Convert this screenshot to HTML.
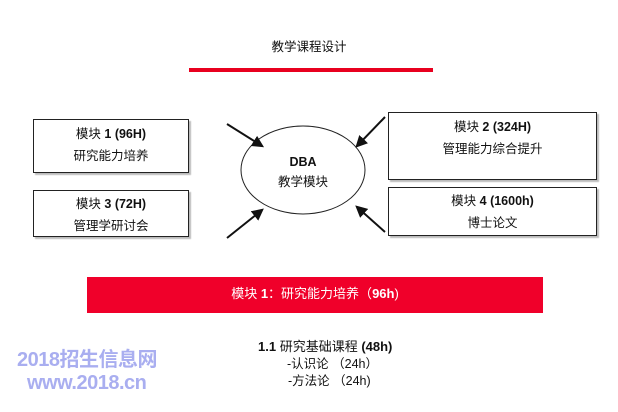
<!DOCTYPE html>
<html><head><meta charset="utf-8"><style>
body{margin:0;width:618px;height:412px;background:#fff;position:relative;overflow:hidden;font-family:"Liberation Sans","Noto Sans CJK SC",sans-serif;color:#111}
.a{position:absolute;white-space:nowrap}
.box{position:absolute;border:1px solid #222;background:#fff;box-shadow:2px 2px 1px #bbb;text-align:center;font-size:12.5px;line-height:22px}
b{font-weight:bold}
</style></head><body>
<div class="a" style="left:0;width:618px;top:36px;text-align:center;font-size:12.5px">教学课程设计</div>
<div class="a" style="left:189px;top:68px;width:244px;height:4px;background:#e8001f"></div>
<div class="box" style="left:33px;top:119px;width:156px;height:54px;padding-top:3px;box-sizing:border-box">模块 <b>1 (96H)</b><br>研究能力培养</div>
<div class="box" style="left:33px;top:190px;width:156px;height:47px;padding-top:2px;box-sizing:border-box">模块 <b>3 (72H)</b><br>管理学研讨会</div>
<div class="box" style="left:388px;top:112px;width:209px;height:68px;padding-top:3px;box-sizing:border-box">模块 <b>2 (324H)</b><br>管理能力综合提升</div>
<div class="box" style="left:388px;top:187px;width:209px;height:49px;padding-top:2px;box-sizing:border-box">模块 <b>4 (1600h)</b><br>博士论文</div>
<svg class="a" style="left:0;top:0" width="618" height="412">
<defs><marker id="m" viewBox="0 0 10 10" refX="8" refY="5" markerWidth="6" markerHeight="6" orient="auto"><path d="M0,0L10,5L0,10z" fill="#111"/></marker></defs>
<ellipse cx="303" cy="170" rx="62" ry="44" fill="#fff" stroke="#222"/>
<g stroke="#111" stroke-width="2" marker-end="url(#m)">
<line x1="227" y1="124" x2="262" y2="146"/>
<line x1="227" y1="238" x2="262" y2="210"/>
<line x1="385" y1="117" x2="357" y2="146"/>
<line x1="385" y1="232" x2="357" y2="207"/>
</g></svg>
<div class="a" style="left:241px;width:124px;top:152px;text-align:center;font-size:12.5px;line-height:20px"><b>DBA</b><br>教学模块</div>
<div class="a" style="left:87px;top:277px;width:456px;height:36px;background:#f0002a;color:#fff;text-align:center;line-height:34px;font-size:13px">模块 <b>1</b>：研究能力培养（<b>96h</b>)</div>
<div class="a" style="left:258px;top:336px;font-size:13px"><b>1.1</b> 研究基础课程 <b>(48h)</b></div>
<div class="a" style="left:287px;top:353px;font-size:12.5px">-认识论 （24h）</div>
<div class="a" style="left:288px;top:370px;font-size:12.5px">-方法论 （24h)</div>
<div class="a" style="left:17px;top:343px;font-size:20px;font-weight:bold;color:#a9aef0;letter-spacing:-0.5px">2018招生信息网</div>
<div class="a" style="left:27px;top:372px;font-size:20px;font-weight:bold;color:#a9aef0;letter-spacing:-0.5px">www.2018.cn</div>
</body></html>
